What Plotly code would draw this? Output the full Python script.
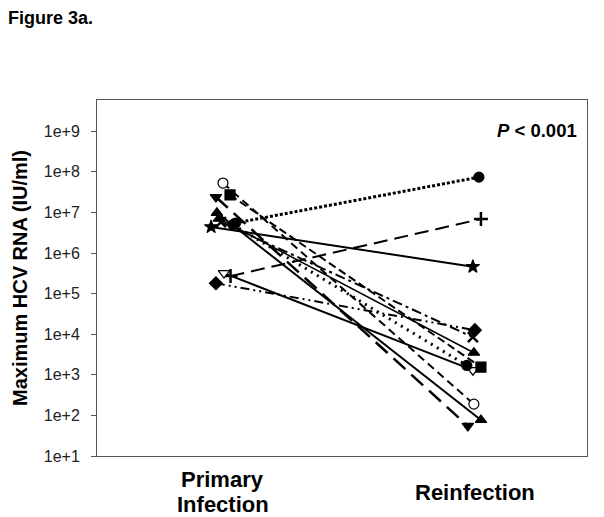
import plotly.graph_objects as go

# ---- data ----
categories = ["Primary<br>Infection", "Reinfection"]
primary = [5.5e6, 2.7e5, 4.4e6, 1.8e5, 3.2e5, 5.3e7, 2.7e7, 2.4e7, 9.8e6, 5.8e6, 5.0e6, 7.0e6]
reinfection = [7.4e7, 6.9e6, 4.6e5, 1.26e4, 1.3e3, 190, 1.55e3, 55, 77, 8.5e3, 1.7e3, 3.5e3]
tick_vals = [1e1, 1e2, 1e3, 1e4, 1e5, 1e6, 1e7, 1e8, 1e9]
tick_text = ["1e+1", "1e+2", "1e+3", "1e+4", "1e+5", "1e+6", "1e+7", "1e+8", "1e+9"]

# ---- styles (marker symbol, fill, dash, width, x jitter primary, x jitter reinfection) ----
styles = [
    ("circle", "black", "3px,2px", 3.0, 0.05, 0.016),
    ("cross-thin", "black", "14px,7px", 2.0, 0.03, 0.024),
    ("star", "black", "solid", 2.0, -0.047, -0.008),
    ("diamond", "black", "9px,4px,2px,4px,2px,4px", 2.0, -0.028, 0.0),
    ("triangle-down", "white", "solid", 2.0, 0.004, -0.008),
    ("circle", "white", "8px,5px", 2.0, 0.0, -0.004),
    ("square", "black", "8px,4px", 2.0, 0.028, 0.024),
    ("triangle-down", "black", "16px,8px", 2.5, -0.028, -0.028),
    ("triangle-up", "black", "solid", 2.0, -0.024, 0.024),
    ("x-thin", "black", "10px,4px,3px,4px", 2.0, -0.008, -0.008),
    ("circle", "black", "2px,5px", 3.0, 0.04, -0.032),
    ("triangle-up", "black", "solid", 1.5, -0.016, -0.004),
]

fig = go.Figure()
for p, r, (sym, fill, dash, w, j1, j2) in zip(primary, reinfection, styles):
    thin = "thin" in sym
    fig.add_trace(go.Scatter(
        x=[1 + j1, 2 + j2], y=[p, r], mode="lines+markers",
        line=dict(color="black", width=w, dash=dash),
        marker=dict(symbol=sym, size=10,
                    color=fill,
                    line=dict(color="black", width=2.5 if thin else 1.2)),
        showlegend=False, hoverinfo="skip",
    ))

# category labels (one annotation per text line)
plot_h = 356.0
for i, c in enumerate(categories):
    lines = c.split("<br>")
    n = len(lines)
    for k, line in enumerate(lines):
        offset_px = 36 + (k - (n - 1) / 2) * 25
        fig.add_annotation(x=i + 1, xref="x", y=-offset_px / plot_h, yref="paper",
                           text="<b>%s</b>" % line, showarrow=False,
                           yanchor="middle", xanchor="center",
                           font=dict(size=22, color="black"))

fig.add_annotation(x=0.983, xref="paper", y=0.913, yref="paper",
                   text="<b><i>P</i> &lt; 0.001</b>", showarrow=False,
                   xanchor="right", yanchor="middle", font=dict(size=18.5, color="black"))

fig.update_layout(
    width=596, height=509,
    margin=dict(l=85, r=17, t=92, b=61),
    paper_bgcolor="white", plot_bgcolor="white",
    font=dict(family="Liberation Sans, Arial, sans-serif", color="black"),
    title=dict(text="<b>Figure 3a.</b>", x=0.0, xanchor="left", y=0.981, yanchor="middle",
               font=dict(size=18, color="black")),
    xaxis=dict(range=[0.5, 2.445], showticklabels=False, ticks="", showgrid=False,
               zeroline=False, showline=True, mirror=True, linecolor="#555", linewidth=1),
    yaxis=dict(type="log", range=[1, 9.77], tickvals=tick_vals, ticktext=tick_text,
               ticks="outside", ticklen=5, tickcolor="#555", showgrid=False, zeroline=False,
               showline=True, mirror=True, linecolor="#555", linewidth=1,
               ticklabelstandoff=8,
               tickfont=dict(size=16, color="#222"),
               title=dict(text="<b>Maximum HCV RNA (IU/ml)</b>", font=dict(size=20, color="black"),
                          standoff=10)),
)

fig.write_html("out.html")
